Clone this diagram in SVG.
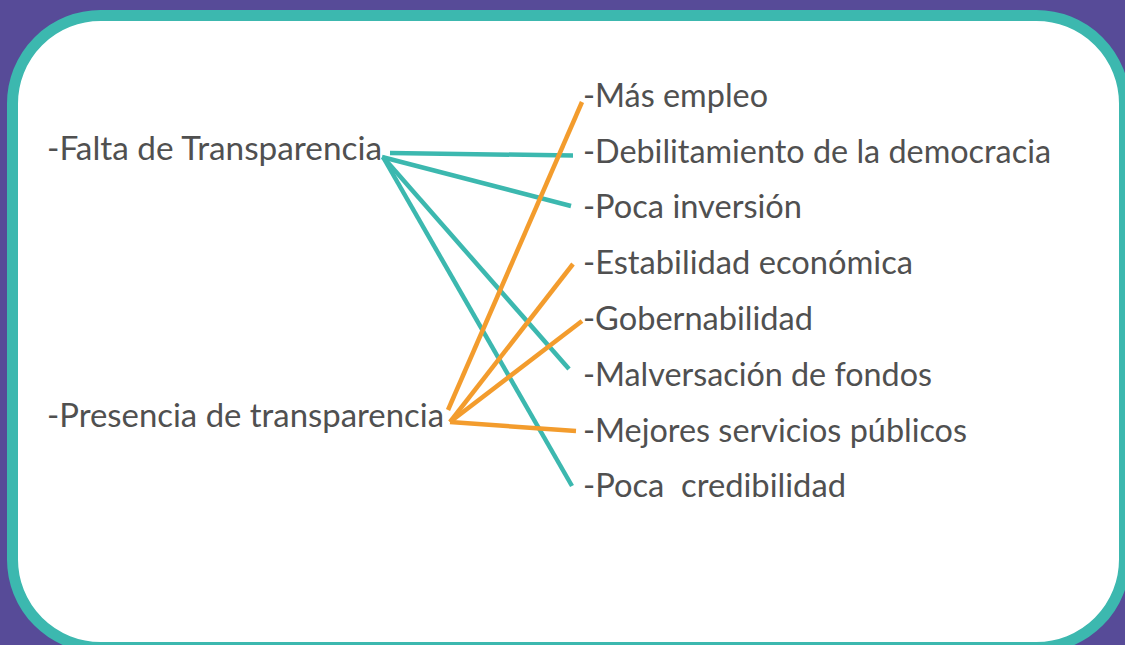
<svg xmlns="http://www.w3.org/2000/svg" width="1125" height="645" viewBox="0 0 1125 645">
<style>
.t{font-family:Lato,"Open Sans","Liberation Sans",sans-serif;font-size:32px;fill:#505050;white-space:pre}
.teal{stroke:#3cb8af;stroke-width:4.5;fill:none;stroke-linecap:butt}
.orange{stroke:#f39c2d;stroke-width:4.5;fill:none;stroke-linecap:butt}
</style>
<rect x="0" y="0" width="1125" height="645" fill="#574b98"/>
<rect x="12.5" y="15.5" width="1112" height="632" rx="88" ry="88" fill="#ffffff" stroke="#3cb8af" stroke-width="11"/>
<g id="connectors">
<line class="teal" x1="390" y1="153" x2="573" y2="155.5"/>
<line class="teal" x1="382" y1="157" x2="571" y2="206"/>
<line class="teal" x1="383" y1="157" x2="569" y2="369"/>
<line class="teal" x1="383" y1="157" x2="572" y2="486"/>
<line class="orange" x1="448" y1="410" x2="582" y2="102"/>
<line class="orange" x1="450" y1="422" x2="573" y2="264"/>
<line class="orange" x1="450" y1="422" x2="582" y2="321"/>
<line class="orange" x1="450" y1="422" x2="576" y2="431"/>
</g>
<g id="falta"><text class="t" x="47" y="160" textLength="335" lengthAdjust="spacingAndGlyphs">-Falta de Transparencia</text></g>
<g id="presencia"><text class="t" x="47" y="427" textLength="397" lengthAdjust="spacingAndGlyphs">-Presencia de transparencia</text></g>
<g id="mas-empleo"><text class="t" x="583" y="107" textLength="185" lengthAdjust="spacingAndGlyphs">-Más empleo</text></g>
<g id="debilitamiento"><text class="t" x="583" y="162.5" textLength="468" lengthAdjust="spacingAndGlyphs">-Debilitamiento de la democracia</text></g>
<g id="poca-inversion"><text class="t" x="583" y="218" textLength="219" lengthAdjust="spacingAndGlyphs">-Poca inversión</text></g>
<g id="estabilidad"><text class="t" x="583" y="274" textLength="330" lengthAdjust="spacingAndGlyphs">-Estabilidad económica</text></g>
<g id="gobernabilidad"><text class="t" x="583" y="330" textLength="230" lengthAdjust="spacingAndGlyphs">-Gobernabilidad</text></g>
<g id="malversacion"><text class="t" x="583" y="385.5" textLength="349" lengthAdjust="spacingAndGlyphs">-Malversación de fondos</text></g>
<g id="mejores"><text class="t" x="583" y="441.5" textLength="384" lengthAdjust="spacingAndGlyphs">-Mejores servicios públicos</text></g>
<g id="poca-credibilidad"><text class="t" x="583" y="497" textLength="263" lengthAdjust="spacingAndGlyphs">-Poca  credibilidad</text></g>
</svg>
